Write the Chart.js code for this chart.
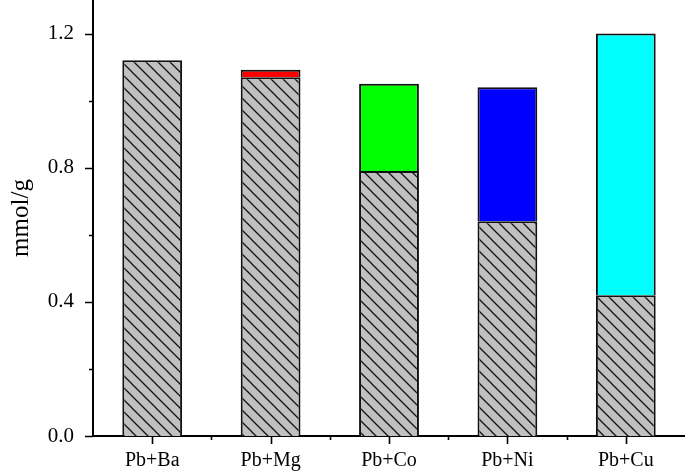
<!DOCTYPE html>
<html>
<head>
<meta charset="utf-8">
<script src="https://cdn.jsdelivr.net/npm/chart.js@4.4.1/dist/chart.umd.min.js"></script>
<style>
html,body{margin:0;padding:0;background:#fff;}
#wrap{width:685px;height:473px;position:relative;}
</style>
</head>
<body>
<div id="wrap"><canvas id="c" width="685" height="473"></canvas></div>
<script>
// ---- data ----
const categories = ['Pb+Ba', 'Pb+Mg', 'Pb+Co', 'Pb+Ni', 'Pb+Cu'];
const pbValues = [1.12, 1.07, 0.79, 0.64, 0.42];
const secondMetalValues = [null, 0.022, 0.26, 0.40, 0.78];
const secondMetalColors = ['#ffffff', '#ff0000', '#00ff00', '#0000ff', '#00ffff'];
const yTickValues = [0, 0.2, 0.4, 0.6, 0.8, 1.0, 1.2];
const yMajorTicks = [0, 0.4, 0.8, 1.2];
const yAxisTitle = 'mmol/g';

// hatch pattern
function makeHatch() {
  const s = 12;
  const pc = document.createElement('canvas');
  pc.width = s; pc.height = s;
  const g = pc.getContext('2d');
  g.fillStyle = '#c0c0c0';
  g.fillRect(0, 0, s, s);
  g.strokeStyle = '#111';
  g.lineWidth = 1.3;
  g.beginPath();
  g.moveTo(-2, -2); g.lineTo(s + 2, s + 2);
  g.moveTo(-2, s - 2); g.lineTo(2, s + 2);
  g.moveTo(s - 2, -2); g.lineTo(s + 2, 2);
  g.stroke();
  return g.createPattern(pc, 'repeat');
}
const ctx = document.getElementById('c').getContext('2d');
const hatch = makeHatch();

const FONT = "'Liberation Serif', 'Times New Roman', serif";

const tickPlugin = {
  id: 'tickMarks',
  afterDraw(chart) {
    const c = chart.ctx;
    const xs = chart.scales.x, ys = chart.scales.y;
    c.save();
    c.strokeStyle = '#000';
    c.lineWidth = 1.6;
    c.beginPath();
    yTickValues.forEach(v => {
      const y = Math.round(ys.getPixelForValue(v)) + 0.5;
      const major = yMajorTicks.some(m => Math.abs(m - v) < 1e-9);
      const len = major ? 8 : 4;
      c.moveTo(xs.left - len, y); c.lineTo(xs.left, y);
    });
    const n = categories.length;
    for (let i = 0; i < n; i++) {
      const x = Math.round(xs.getPixelForTick(i)) + 0.5;
      c.moveTo(x, ys.bottom); c.lineTo(x, ys.bottom + 8);
      if (i < n - 1) {
        const xm = Math.round((xs.getPixelForTick(i) + xs.getPixelForTick(i + 1)) / 2) + 0.5;
        c.moveTo(xm, ys.bottom); c.lineTo(xm, ys.bottom + 4);
      }
    }
    c.stroke();
    c.restore();
  }
};

function zeroPad(scale) {
  scale.paddingTop = 0; scale.paddingBottom = 0;
  scale.paddingLeft = 0; scale.paddingRight = 0;
}

new Chart(ctx, {
  type: 'bar',
  data: {
    labels: categories,
    datasets: [
      {
        label: 'Pb',
        data: pbValues,
        backgroundColor: hatch,
        borderColor: '#111',
        borderWidth: 2,
        borderSkipped: 'start',
        categoryPercentage: 1,
        barPercentage: 0.505
      },
      {
        label: 'M',
        data: secondMetalValues,
        backgroundColor: secondMetalColors,
        borderColor: '#111',
        borderWidth: 2,
        borderSkipped: 'start',
        categoryPercentage: 1,
        barPercentage: 0.505
      }
    ]
  },
  options: {
    responsive: false,
    animation: false,
    devicePixelRatio: 1,
    layout: { padding: 0 },
    plugins: { legend: { display: false }, tooltip: { enabled: false } },
    scales: {
      x: {
        stacked: true,
        offset: true,
        grid: { display: false, offset: true },
        border: { display: true, color: '#000', width: 2 },
        ticks: { color: '#000', font: { family: FONT, size: 20 }, padding: 5, maxRotation: 0 },
        afterFit(scale) { scale.height = 37; zeroPad(scale); }
      },
      y: {
        stacked: true,
        min: 0,
        max: 1.3,
        grid: { display: false },
        border: { display: true, color: '#000', width: 2 },
        ticks: {
          stepSize: 0.2,
          color: '#000',
          font: { family: FONT, size: 21 },
          padding: 11,
          callback(v) {
            const k = Math.round(v * 10);
            return (k % 4 === 0 && k <= 12) ? (k / 10).toFixed(1) : '';
          }
        },
        title: {
          display: true,
          text: yAxisTitle,
          color: '#000',
          font: { family: FONT, size: 25 },
          padding: { top: 6, bottom: 0 }
        },
        afterFit(scale) { scale.width = 93; zeroPad(scale); }
      }
    }
  },
  plugins: [tickPlugin]
});
</script>
</body>
</html>
